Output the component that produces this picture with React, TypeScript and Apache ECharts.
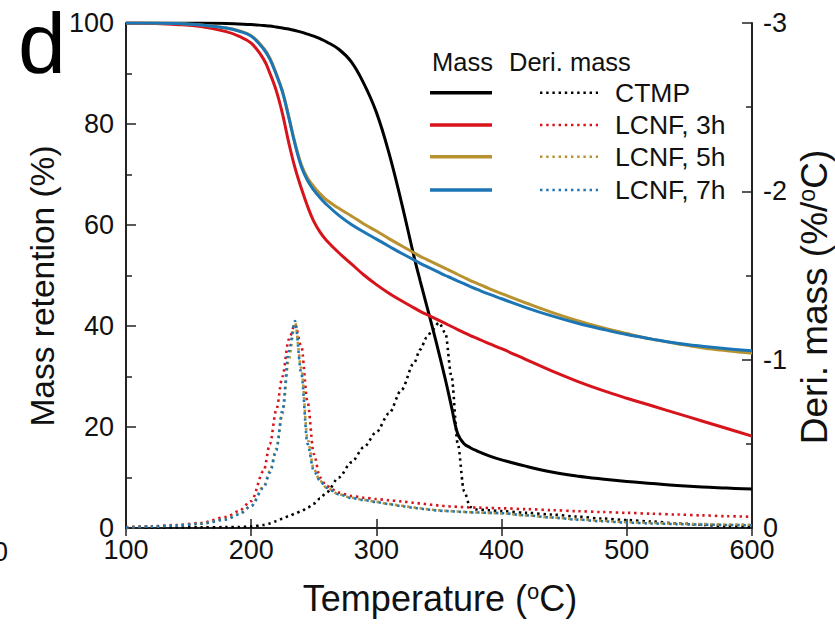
import React, { useEffect, useRef } from "react";
import * as echarts from "echarts";

// Temperature sampling points (°C)
const temps = [
  100, 120, 140, 160, 180, 190, 200, 210, 215, 220, 225, 230, 235, 240, 245, 250, 255, 260, 270, 280,
  290, 300, 310, 320, 330, 335, 340, 345, 350, 355, 360, 365, 370, 375, 380, 390, 400, 420, 440, 460,
  480, 500, 520, 540, 560, 580, 600,
];

// Mass retention (%)
const massCTMP = [
  100, 100, 100, 100, 99.9, 99.8, 99.7, 99.5, 99.4, 99.2, 99.0, 98.8, 98.5, 98.2, 97.8, 97.4, 96.9, 96.3, 94.8, 92.3,
  88, 82.3, 74.3, 64.5, 53.8, 48.9, 44.2, 39.5, 34.6, 29.5, 24, 18.6, 16.7, 15.9, 15.3, 14.3, 13.5, 12.2, 11.1, 10.3,
  9.7, 9.2, 8.8, 8.4, 8.1, 7.9, 7.7,
];
const massLCNF3h = [
  100, 99.9, 99.7, 99.3, 98.3, 97.4, 96, 92.8, 90, 86.6, 82, 76.3, 71.3, 67.3, 63.7, 60.7, 58.6, 57, 54.5, 52.3,
  50.1, 48.2, 46.5, 45, 43.6, 42.9, 42.3, 41.7, 41.1, 40.5, 39.9, 39.3, 38.7, 38.1, 37.6, 36.5, 35.5, 33.3, 31.1, 29.1,
  27.3, 25.7, 24.2, 22.7, 21.2, 19.7, 18.2,
];
const massLCNF5h = [
  100, 100, 99.9, 99.6, 99, 98.5, 97.5, 95, 93, 90, 86.5, 81.5, 76.2, 72, 69.3, 67.6, 66.2, 65, 63.3, 61.8,
  60.2, 58.8, 57.3, 55.9, 54.5, 53.8, 53.2, 52.6, 52, 51.4, 50.8, 50.2, 49.6, 49, 48.5, 47.4, 46.4, 44.5, 42.7, 41.1,
  39.7, 38.5, 37.4, 36.5, 35.7, 35.1, 34.6,
];
const massLCNF7h = [
  100, 100, 99.9, 99.6, 99, 98.4, 97.4, 94.8, 92.8, 89.8, 86.3, 81.3, 76, 71.6, 68.8, 66.9, 65.4, 64.1, 61.9, 60.1,
  58.6, 57.2, 55.8, 54.4, 53.1, 52.4, 51.8, 51.2, 50.6, 50, 49.5, 48.9, 48.4, 47.8, 47.3, 46.3, 45.4, 43.6, 42, 40.6,
  39.4, 38.3, 37.4, 36.6, 36, 35.5, 35.1,
];

// Derivative mass (%/°C)
const deriCTMP = [
  0, -0.002, -0.003, -0.004, -0.005, -0.006, -0.008, -0.018, -0.027, -0.04, -0.055, -0.07, -0.085, -0.1, -0.12, -0.145, -0.175, -0.21, -0.3, -0.39,
  -0.48, -0.57, -0.68, -0.82, -0.98, -1.06, -1.13, -1.18, -1.22, -1.16, -0.9, -0.5, -0.22, -0.125, -0.11, -0.105, -0.1, -0.09, -0.08, -0.068,
  -0.056, -0.047, -0.038, -0.028, -0.019, -0.011, -0.006,
];
const deriLCNF3h = [
  -0.005, -0.01, -0.018, -0.03, -0.065, -0.1, -0.16, -0.34, -0.5, -0.7, -0.9, -1.12, -1.21, -1.08, -0.75, -0.44, -0.3, -0.25, -0.21, -0.19,
  -0.18, -0.172, -0.165, -0.158, -0.15, -0.146, -0.142, -0.138, -0.134, -0.131, -0.128, -0.126, -0.124, -0.122, -0.121, -0.119, -0.117, -0.112, -0.106, -0.1,
  -0.095, -0.09, -0.085, -0.08, -0.075, -0.07, -0.066,
];
const deriLCNF5h = [
  -0.003, -0.008, -0.015, -0.026, -0.052, -0.082, -0.13, -0.25, -0.34, -0.47, -0.68, -1.0, -1.22, -0.95, -0.53, -0.35, -0.28, -0.24, -0.2, -0.18,
  -0.167, -0.155, -0.143, -0.132, -0.122, -0.117, -0.112, -0.108, -0.105, -0.102, -0.1, -0.098, -0.096, -0.094, -0.092, -0.09, -0.087, -0.075, -0.063, -0.052,
  -0.043, -0.035, -0.03, -0.026, -0.023, -0.021, -0.019,
];
const deriLCNF7h = [
  -0.003, -0.008, -0.015, -0.025, -0.05, -0.08, -0.13, -0.24, -0.33, -0.46, -0.7, -1.05, -1.23, -0.92, -0.5, -0.34, -0.28, -0.24, -0.2, -0.178,
  -0.166, -0.154, -0.142, -0.13, -0.12, -0.115, -0.11, -0.106, -0.103, -0.101, -0.099, -0.097, -0.095, -0.093, -0.092, -0.09, -0.088, -0.075, -0.062, -0.05,
  -0.04, -0.032, -0.027, -0.023, -0.02, -0.018, -0.016,
];

const seriesNames = ["CTMP", "LCNF, 3h", "LCNF, 5h", "LCNF, 7h"];
const seriesColors = ["#000000", "#d7141c", "#b8922e", "#1c75b5"];

const FONT = "Liberation Sans, Arial, sans-serif";
const DOT = [2.4, 3.8];

export default function App() {
  const ref = useRef<HTMLDivElement>(null);

  useEffect(() => {
    const chart = echarts.init(ref.current!, null, { renderer: "svg" });
    const pair = (ys: number[]) => temps.map((t, i) => [t, ys[i]]);
    const masses = [massCTMP, massLCNF3h, massLCNF5h, massLCNF7h];
    const deris = [deriCTMP, deriLCNF3h, deriLCNF5h, deriLCNF7h];

    const series: any[] = [];
    masses.forEach((m, i) => {
      series.push({
        name: seriesNames[i] + " mass",
        type: "line",
        xAxisIndex: 0,
        yAxisIndex: 0,
        data: pair(m),
        showSymbol: false,
        smooth: 0.4,
        lineStyle: { color: seriesColors[i], width: 3 },
        z: 3,
      });
    });
    deris.forEach((d, i) => {
      series.push({
        name: seriesNames[i] + " deri",
        type: "line",
        xAxisIndex: 0,
        yAxisIndex: 1,
        data: pair(d),
        showSymbol: false,
        smooth: 0.3,
        smoothMonotone: "x",
        lineStyle: { color: seriesColors[i], width: 2.6, type: DOT },
        z: 4,
      });
    });

    const axisLine = { show: true, lineStyle: { color: "#222", width: 2 } };
    const labelStyle = { color: "#111", fontSize: 27, fontFamily: FONT };

    const legendRows = [92.7, 125, 156.7, 190];
    const legendGraphics: any[] = [];
    legendGraphics.push({
      type: "text", x: 432, y: 62,
      style: { text: "Mass", fontSize: 25.5, fontFamily: FONT, fill: "#111", align: "left", verticalAlign: "middle" },
    });
    legendGraphics.push({
      type: "text", x: 509, y: 62,
      style: { text: "Deri. mass", fontSize: 25.5, fontFamily: FONT, fill: "#111", align: "left", verticalAlign: "middle" },
    });
    seriesNames.forEach((n, i) => {
      const y = legendRows[i];
      legendGraphics.push({
        type: "line",
        shape: { x1: 430, y1: y, x2: 492, y2: y },
        style: { stroke: seriesColors[i], lineWidth: 3.5 },
      });
      legendGraphics.push({
        type: "line",
        shape: { x1: 540, y1: y, x2: 598, y2: y },
        style: { stroke: seriesColors[i], lineWidth: 2.6, lineDash: DOT },
      });
      legendGraphics.push({
        type: "text", x: 615, y: y,
        style: { text: n, fontSize: 26.5, fontFamily: FONT, fill: "#111", align: "left", verticalAlign: "middle" },
      });
    });

    const supRich = (size: number) => ({
      s: { fontSize: size, fontFamily: FONT, fill: "#111", verticalAlign: "top" },
    });

    const option: any = {
      animation: false,
      backgroundColor: "#ffffff",
      grid: { left: 126, right: 83, top: 23, bottom: 97, containLabel: false },
      xAxis: [
        {
          type: "value", position: "bottom", min: 100, max: 600, interval: 100,
          axisLine, splitLine: { show: false },
          axisTick: { show: true, inside: true, length: 9, lineStyle: { color: "#222", width: 1.5 } },
          axisLabel: { ...labelStyle, margin: 8 },
        },
        {
          type: "value", position: "top", min: 100, max: 600, interval: 100,
          axisLine, splitLine: { show: false },
          axisTick: { show: true, inside: true, length: 8, lineStyle: { color: "#222", width: 1.5 } },
          axisLabel: { show: false },
        },
      ],
      yAxis: [
        {
          type: "value", position: "left", min: 0, max: 100, interval: 20,
          axisLine, splitLine: { show: false },
          axisTick: { show: true, inside: true, length: 10, lineStyle: { color: "#222", width: 1.5 } },
          minorTick: { show: true, splitNumber: 2, length: 6, lineStyle: { color: "#222", width: 1.5 } },
          axisLabel: { ...labelStyle, margin: 12 },
        },
        {
          type: "value", position: "right", min: -3, max: 0, interval: 1, inverse: true,
          axisLine, splitLine: { show: false },
          axisTick: { show: true, inside: true, length: 10, lineStyle: { color: "#222", width: 1.5 } },
          minorTick: { show: true, splitNumber: 2, length: 6, lineStyle: { color: "#222", width: 1.5 } },
          axisLabel: { ...labelStyle, margin: 11 },
        },
      ],
      series,
      graphic: [
        {
          type: "text", x: 18, y: 43,
          style: { text: "d", fontSize: 86, fontFamily: FONT, fill: "#000", align: "left", verticalAlign: "middle" },
        },
        {
          type: "text", x: -7, y: 552,
          style: { text: "0", fontSize: 27, fontFamily: FONT, fill: "#111", align: "left", verticalAlign: "middle" },
        },
        {
          type: "text", x: 440, y: 598,
          style: {
            text: "Temperature ({s|o}C)", fontSize: 36, fontFamily: FONT, fill: "#111",
            align: "center", verticalAlign: "middle", rich: supRich(22),
          },
        },
        {
          type: "text", x: 42, y: 286, rotation: Math.PI / 2,
          style: {
            text: "Mass retention (%)", fontSize: 33.5, fontFamily: FONT, fill: "#111",
            align: "center", verticalAlign: "middle",
          },
        },
        {
          type: "text", x: 814, y: 297, rotation: Math.PI / 2,
          style: {
            text: "Deri. mass (%/{s|o}C)", fontSize: 37, fontFamily: FONT, fill: "#111",
            align: "center", verticalAlign: "middle", rich: supRich(23),
          },
        },
        ...legendGraphics,
      ],
    };

    chart.setOption(option);
    return () => chart.dispose();
  }, []);

  return (
    <div
      ref={ref}
      style={{ position: "fixed", left: 0, top: 0, width: 835, height: 625, background: "#fff" }}
    />
  );
}
